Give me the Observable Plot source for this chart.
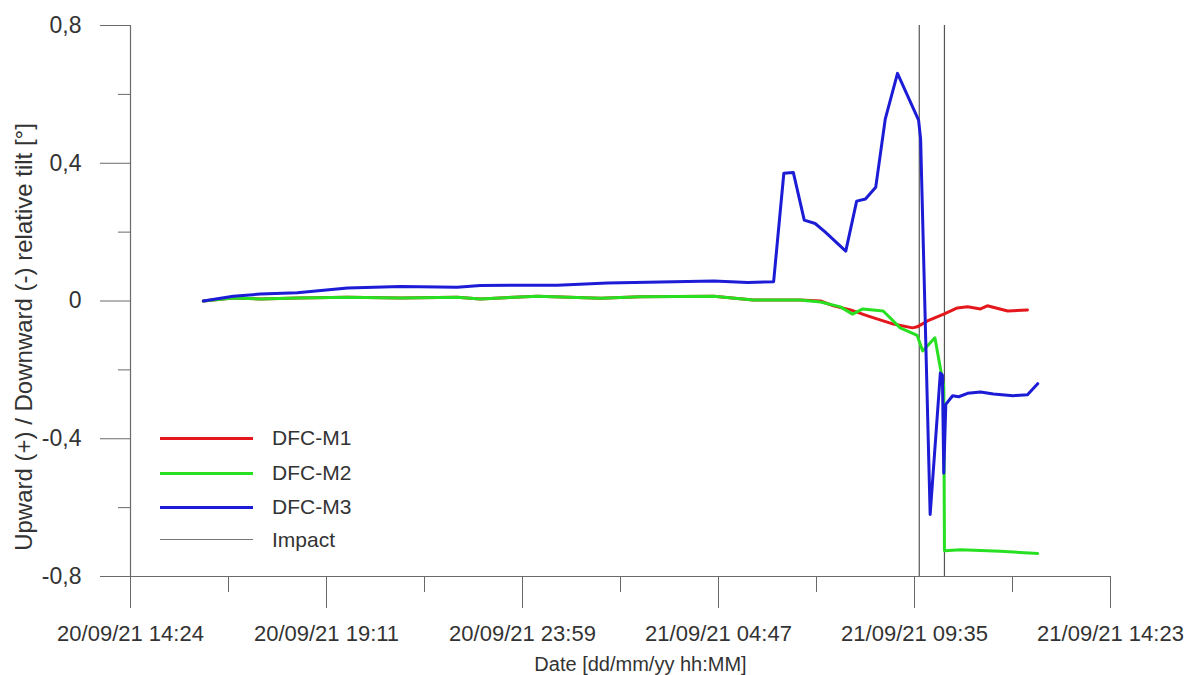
<!DOCTYPE html>
<html><head><meta charset="utf-8">
<script src="https://cdn.jsdelivr.net/npm/d3@7"></script>
<script src="https://cdn.jsdelivr.net/npm/@observablehq/plot@0.6"></script>
<style>
body{margin:0;background:#fff;}
#wrap{position:relative;width:1194px;height:675px;font-family:"Liberation Sans",Arial,sans-serif;}
#legend{position:absolute;left:160px;top:0;}
.lrow{position:absolute;left:0;width:260px;height:0;}
.lline{position:absolute;left:0;width:93px;}
.ltext{position:absolute;left:112px;top:-12px;font-size:21px;color:#333;white-space:nowrap;line-height:24px;}
g[aria-label="x-axis tick label"]{font-size:22px;}
g[aria-label="y-axis tick label"]{font-size:23px;}
g[aria-label="y-axis label"]{font-size:24px;}
g[aria-label="x-axis label"]{font-size:20px;}
</style></head><body><div id="wrap"><div id="legend"></div></div>
<script>
const parse = d3.timeParse("%d/%m/%y %H:%M");

const xTickLabels = ["20/09/21 14:24","20/09/21 19:11","20/09/21 23:59","21/09/21 04:47","21/09/21 09:35","21/09/21 14:23"];
const yTickValues = [-0.8,-0.4,0,0.4,0.8];
const yMinorTicks = [-0.6,-0.2,0.2,0.6];
const seriesNames = ["DFC-M1","DFC-M2","DFC-M3"];
const seriesColors = ["#e3171c","#27e021","#1c1cd6"];
const impactName = "Impact";
const impactTimes = ["21/09/21 09:43","21/09/21 10:20"];

const m1Times = ["20/09/21 16:11","20/09/21 16:55","20/09/21 17:35","20/09/21 18:29","20/09/21 19:43","20/09/21 21:01","20/09/21 22:24","20/09/21 22:58","21/09/21 00:22","21/09/21 01:55","21/09/21 02:53","21/09/21 04:41","21/09/21 05:39","21/09/21 06:48","21/09/21 07:18","21/09/21 07:37","21/09/21 08:02","21/09/21 08:27","21/09/21 09:05","21/09/21 09:33","21/09/21 09:40","21/09/21 09:55","21/09/21 10:19","21/09/21 10:39","21/09/21 10:54","21/09/21 11:13","21/09/21 11:23","21/09/21 11:53","21/09/21 12:22"];
const m1Values = [0,0.009,0.006,0.009,0.011,0.009,0.011,0.006,0.014,0.008,0.012,0.014,0.003,0.003,0.0,-0.014,-0.026,-0.043,-0.067,-0.078,-0.075,-0.058,-0.038,-0.02,-0.017,-0.023,-0.014,-0.029,-0.026];

const m2Times = ["20/09/21 16:11","20/09/21 16:55","20/09/21 17:35","20/09/21 18:29","20/09/21 19:43","20/09/21 21:01","20/09/21 22:24","20/09/21 22:58","21/09/21 00:22","21/09/21 01:55","21/09/21 02:53","21/09/21 04:41","21/09/21 05:39","21/09/21 06:48","21/09/21 07:18","21/09/21 07:47","21/09/21 08:05","21/09/21 08:20","21/09/21 08:50","21/09/21 09:15","21/09/21 09:40","21/09/21 09:48","21/09/21 10:06","21/09/21 10:19","21/09/21 10:20","21/09/21 10:44","21/09/21 11:42","21/09/21 12:37"];
const m2Values = [0,0.009,0.006,0.009,0.011,0.009,0.011,0.006,0.014,0.008,0.012,0.014,0.003,0.003,-0.003,-0.017,-0.038,-0.023,-0.029,-0.078,-0.1,-0.145,-0.107,-0.25,-0.725,-0.722,-0.727,-0.733];

const m3Times = ["20/09/21 16:11","20/09/21 16:55","20/09/21 17:35","20/09/21 18:29","20/09/21 19:43","20/09/21 21:01","20/09/21 22:24","20/09/21 22:58","20/09/21 23:57","21/09/21 00:51","21/09/21 02:05","21/09/21 03:23","21/09/21 04:41","21/09/21 05:31","21/09/21 06:09","21/09/21 06:24","21/09/21 06:38","21/09/21 06:54","21/09/21 07:10","21/09/21 07:25","21/09/21 07:55","21/09/21 08:11","21/09/21 08:24","21/09/21 08:39","21/09/21 08:53","21/09/21 09:11","21/09/21 09:42","21/09/21 09:45","21/09/21 09:59","21/09/21 10:14","21/09/21 10:17","21/09/21 10:19","21/09/21 10:22","21/09/21 10:32","21/09/21 10:41","21/09/21 10:54","21/09/21 11:13","21/09/21 11:32","21/09/21 12:01","21/09/21 12:22","21/09/21 12:37"];
const m3Values = [0,0.014,0.02,0.024,0.038,0.042,0.04,0.045,0.046,0.046,0.052,0.055,0.058,0.054,0.056,0.371,0.373,0.235,0.225,0.2,0.145,0.29,0.296,0.33,0.528,0.661,0.525,0.47,-0.62,-0.209,-0.215,-0.5,-0.3,-0.275,-0.278,-0.268,-0.264,-0.27,-0.275,-0.272,-0.24];

const seriesTimes = [m1Times, m2Times, m3Times];
const seriesValues = [m1Values, m2Values, m3Values];

const rows = [];
seriesNames.forEach((name, k) => {
  seriesTimes[k].forEach((t, i) => rows.push({series: name, time: parse(t), value: seriesValues[k][i]}));
});

const t0 = parse(xTickLabels[0]);
const step = 288 * 60000;
const xTicks = xTickLabels.map((_, i) => new Date(+t0 + i * step));
const xMinor = xTicks.slice(0, -1).map(d => new Date(+d + step / 2));
const yFmt = d => d === 0 ? "0" : d3.format(".1f")(d).replace("\u2212", "-").replace(".", ",");
const axisColor = "#6a6a6a";

const plot = Plot.plot({
  width: 1194, height: 675,
  marginLeft: 130, marginRight: 84, marginTop: 25, marginBottom: 99,
  style: {fontFamily: "'Liberation Sans', Arial, sans-serif", fontSize: "20px", color: "#333", background: "#fff", overflow: "visible"},
  x: {type: "time", domain: [xTicks[0], xTicks[xTicks.length - 1]]},
  y: {domain: [yTickValues[0], yTickValues[yTickValues.length - 1]]},
  color: {domain: seriesNames, range: seriesColors},
  marks: [
    Plot.axisY({ticks: yTickValues, tickSize: 30, tickPadding: 19, tickFormat: yFmt, stroke: axisColor, fill: "#333",
      label: "Upward (+) / Downward (-) relative tilt [°]", labelAnchor: "center", labelOffset: 114, labelArrow: "none"}),
    Plot.axisY(yMinorTicks, {tickSize: 12, tickFormat: () => "", stroke: axisColor, label: null}),
    Plot.axisX({ticks: xTicks, tickSize: 32, tickPadding: 17, stroke: axisColor, fill: "#333",
      tickFormat: d => xTickLabels[Math.round((d - t0) / step)],
      label: "Date [dd/mm/yy hh:MM]", labelAnchor: "center", labelOffset: 94, labelArrow: "none"}),
    Plot.axisX(xMinor, {tickSize: 16, tickFormat: () => "", stroke: axisColor, label: null}),
    Plot.ruleX([xTicks[0]], {stroke: axisColor, strokeWidth: 1.2}),
    Plot.ruleY([yTickValues[0]], {stroke: axisColor, strokeWidth: 1.2}),
    Plot.ruleX(impactTimes.map(parse), {stroke: "#555", strokeWidth: 1.2}),
    Plot.line(rows, {x: "time", y: "value", z: "series", stroke: "series", strokeWidth: 3, strokeLinejoin: "round"})
  ]
});
const wrap = document.getElementById("wrap");
wrap.insertBefore(plot, wrap.firstChild);

// nudge the axis titles to where the reference places them
function nudge(label, dx, dy) {
  const g = plot.querySelector(`g[aria-label="${label}"]`);
  if (!g) return;
  const t = g.getAttribute("transform") || "";
  g.setAttribute("transform", `translate(${dx},${dy}) ${t}`);
}
nudge("y-axis label", -2, 36);
nudge("x-axis label", 20, 0);

// legend
const legend = document.getElementById("legend");
const legendItems = seriesNames.map((n, i) => ({name: n, color: seriesColors[i], w: 3})).concat([{name: impactName, color: "#777", w: 1.5}]);
const rowTops = [438, 473, 507, 540];
legendItems.forEach((it, i) => {
  const r = document.createElement("div");
  r.className = "lrow";
  r.style.top = rowTops[i] + "px";
  r.innerHTML = `<div class="lline" style="top:${-it.w/2}px;border-top:${it.w}px solid ${it.color}"></div><div class="ltext">${it.name}</div>`;
  legend.appendChild(r);
});
</script>
</body></html>
